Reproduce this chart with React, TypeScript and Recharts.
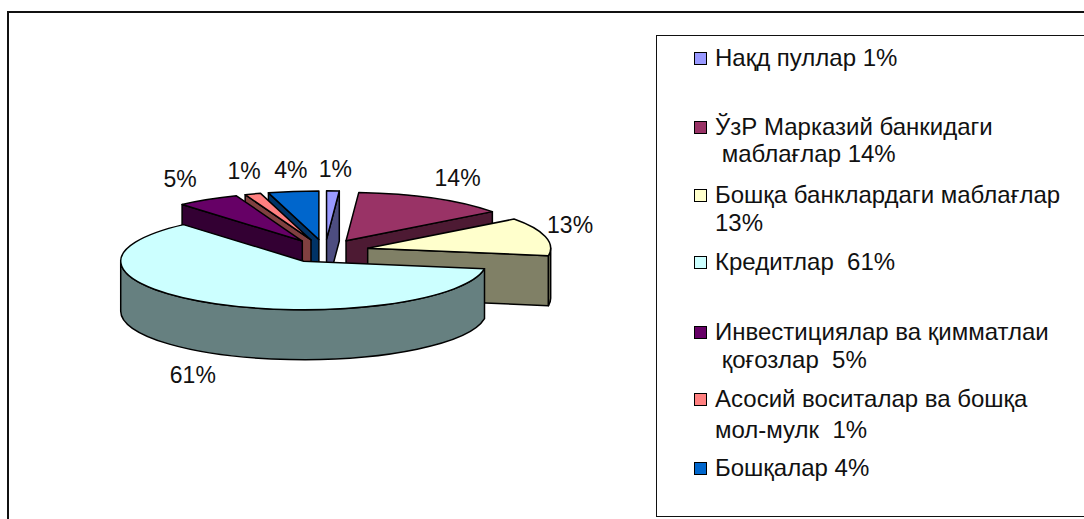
import React from 'react';
import { PieChart, Pie, Legend } from 'recharts';

const categories = [
  'Нақд пуллар 1%',
  'ЎзР Марказий банкидаги\n маблағлар 14%',
  'Бошқа банклардаги маблағлар\n13%',
  'Кредитлар  61%',
  'Инвестициялар ва қимматлаи\n қоғозлар  5%',
  'Асосий воситалар ва бошқа\nмол-мулк  1%',
  'Бошқалар 4%',
];
const values = [1.1, 13.5, 12.6, 60.5, 5.49, 1.4, 4.4];
const valueLabels = ['1%', '14%', '13%', '61%', '5%', '1%', '4%'];
const topColors = ['#9999FF', '#993366', '#FFFFCC', '#CCFFFF', '#660066', '#FF8080', '#0066CC'];
const sideColors = ['#4D4D80', '#4D1A33', '#808066', '#668080', '#330033', '#804040', '#003366'];

const tableData = categories.map((name, i) => ({ name, value: values[i], fill: topColors[i] }));

// back to front, each slice covers the cut face of the one drawn before it
const drawOrder = [6, 5, 4, 0, 1, 2, 3];

const FLATTEN = 0.265; // tilt of the fake 3D pie
const EXPLODE = 44;
const DEPTH = 50;
const FONT = '"Liberation Sans", Arial, sans-serif';

// nudges for the data labels, y for the first line of each legend item
const labelNudges = [[1, -11], [5, -11], [-14, -9], [-3, 62], [-7, -11], [4, -13], [3, -11]];
const legendRows = [58, 127, 195, 262, 332, 399, 468];
const lineGaps = [0, 27, 28, 0, 28, 31, 0];

const rad = (deg: number) => (deg * Math.PI) / 180;

// recharts angles run counter clockwise from 3 o'clock, here 0 is 12 o'clock going clockwise
const Slice3D = (props: any) => {
  const { cx, cy, outerRadius: a, startAngle, endAngle, fill, index } = props;
  const b = a * FLATTEN;
  const t1 = 90 - startAngle;
  const t2 = 90 - endAngle;
  const mid = rad((t1 + t2) / 2);
  const ox = cx + EXPLODE * Math.sin(mid);
  const oy = cy - EXPLODE * FLATTEN * Math.cos(mid);
  const pt = (t: number) => [ox + a * Math.sin(rad(t)), oy - b * Math.cos(rad(t))];
  const side = sideColors[index];
  const [sx, sy] = pt(t1);
  const [ex, ey] = pt(t2);
  const large = t2 - t1 > 180 ? 1 : 0;
  const top = `M${ox},${oy} L${sx},${sy} A${a},${b} 0 ${large} 1 ${ex},${ey} Z`;

  const face = (x: number, y: number) =>
    `M${ox},${oy} L${x},${y} L${x},${y + DEPTH} L${ox},${oy + DEPTH} Z`;
  const showStart = Math.sin(rad(t1)) < 0;
  const showEnd = Math.sin(rad(t2)) > 0;

  // outer wall, only the part of the rim that faces the viewer
  const w1 = Math.max(t1, 90);
  const w2 = Math.min(t2, 270);
  let wall = null;
  if (w2 > w1) {
    const [wx1, wy1] = pt(w1);
    const [wx2, wy2] = pt(w2);
    const big = w2 - w1 > 180 ? 1 : 0;
    wall = `M${wx1},${wy1} A${a},${b} 0 ${big} 1 ${wx2},${wy2} L${wx2},${wy2 + DEPTH} A${a},${b} 0 ${big} 0 ${wx1},${wy1 + DEPTH} Z`;
  }

  return (
    <g stroke="#000" strokeWidth={1.5} strokeLinejoin="round">
      {showStart && <path d={face(sx, sy)} fill={side} />}
      {showEnd && <path d={face(ex, ey)} fill={side} />}
      {wall && <path d={wall} fill={side} />}
      <path d={top} fill={fill} />
    </g>
  );
};

const renderLabel = (props: any) => {
  const { cx, cy, midAngle, outerRadius, index } = props;
  const t = rad(90 - midAngle);
  const r = outerRadius + EXPLODE + 40;
  const [dx, dy] = labelNudges[index];
  return (
    <text
      x={cx + r * Math.sin(t) + dx}
      y={cy - r * FLATTEN * Math.cos(t) + dy}
      textAnchor="middle"
      dominantBaseline="central"
      fontFamily={FONT}
      fontSize={23}
      fill="#111"
    >
      {valueLabels[index]}
    </text>
  );
};

const LegendBox = (props: any) => {
  // every layer adds its own entries, keep one per category
  const entries = categories.map((name) => (props.payload || []).find((e: any) => e.value === name));
  return (
    <div style={{ position: 'absolute', left: 0, top: 0, width: 1084, height: 519, pointerEvents: 'none' }}>
      {entries.map((entry: any, i: number) =>
        entry ? (
          <div key={i}>
            <div
              style={{
                position: 'absolute',
                left: 694,
                top: legendRows[i] - 6,
                width: 11,
                height: 11,
                background: entry.color,
                border: '1.5px solid #000',
              }}
            />
            {String(entry.value).split('\n').map((line, j) => (
              <div
                key={j}
                style={{
                  position: 'absolute',
                  left: 715,
                  top: legendRows[i] + j * lineGaps[i] - 14,
                  lineHeight: '28px',
                  fontFamily: FONT,
                  fontSize: 24,
                  color: '#111',
                  whiteSpace: 'pre',
                }}
              >
                {line}
              </div>
            ))}
          </div>
        ) : null
      )}
    </div>
  );
};

export default function App() {
  return (
    <div style={{ position: 'fixed', left: 0, top: 0, width: 1084, height: 519, overflow: 'hidden', background: '#fff' }}>
      <div style={{ position: 'absolute', left: 7, top: 11, width: 1200, height: 700, border: '2px solid #111' }} />
      <div style={{ position: 'absolute', left: 656, top: 35, width: 600, height: 480, border: '1.5px solid #111' }} />
      <div style={{ position: 'absolute', left: 0, top: 0 }}>
        <PieChart width={1084} height={519} margin={{ top: 0, right: 0, bottom: 0, left: 0 }}>
          {drawOrder.map((layer, k) => (
            <Pie
              key={layer}
              data={tableData}
              dataKey="value"
              nameKey="name"
              cx={325}
              cy={251}
              outerRadius={183}
              startAngle={90}
              endAngle={-270}
              stroke="none"
              isAnimationActive={false}
              label={k === 0 ? renderLabel : false}
              labelLine={false}
              shape={(p: any) => (p.index === layer ? <Slice3D {...p} /> : <g />)}
            />
          ))}
          <Legend content={<LegendBox />} itemSorter={null} wrapperStyle={{ left: 0, top: 0, width: 1084, height: 519 }} />
        </PieChart>
      </div>
    </div>
  );
}
